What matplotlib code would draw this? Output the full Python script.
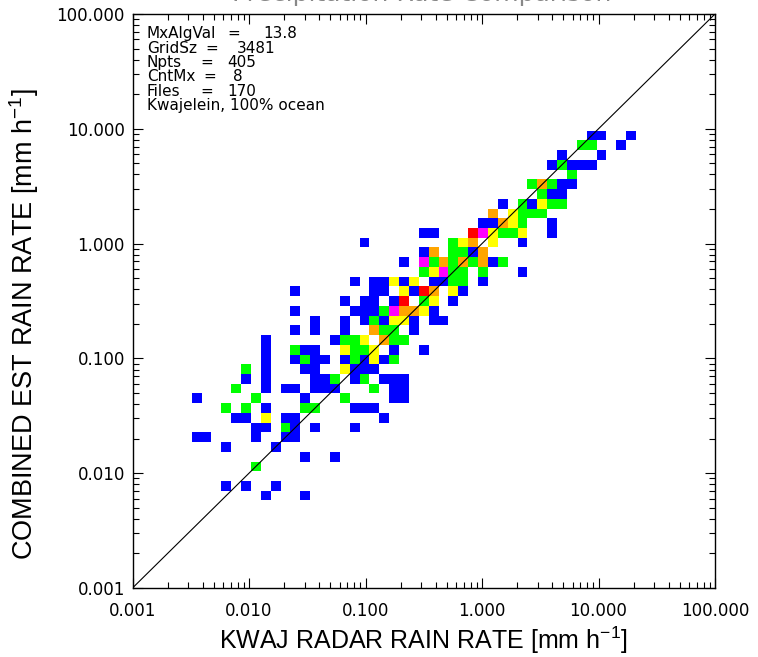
import matplotlib
matplotlib.use("Agg")
import matplotlib.pyplot as plt
from matplotlib.colors import ListedColormap, BoundaryNorm
from matplotlib.ticker import FixedLocator, NullFormatter
import numpy as np

# 59 x 59 log-spaced bins from 0.001 to 100 mm/h (GridSz = 3481)
n_bins = 59
log_lo, log_hi = -3.0, 2.0

# occupied cells, written row by row (top row first):
# cell_x = radar bin index, cell_y = combined bin index, cell_n = count
cell_x = [46, 47, 50,
          45, 46, 49,
          43, 47,
          42, 43, 44, 45, 46,
          44,
          40, 41, 42, 43, 44,
          41, 42, 43,
          37, 39, 40, 41, 42, 43,
          36, 38, 39, 40, 41,
          35, 36, 37, 38, 39, 42,
          29, 30, 34, 35, 36, 37, 38, 39, 42,
          23, 32, 33, 34, 36, 39,
          29, 30, 32, 33, 34, 35,
          27, 29, 30, 31, 32, 33, 34, 35, 36, 37,
          29, 30, 31, 32, 33, 35, 39,
          22, 24, 25, 26, 27, 28, 30, 31, 32, 33, 35,
          16, 24, 25, 27, 28, 29, 30, 32, 33,
          21, 23, 24, 26, 27, 29, 30, 32,
          16, 22, 23, 24, 25, 26, 27, 28, 29, 30,
          18, 21, 23, 24, 25, 26, 27, 28, 30, 31,
          16, 18, 21, 24, 25, 26, 28,
          13, 20, 21, 22, 23, 25, 26, 27,
          13, 16, 17, 18, 21, 22, 23, 24, 26, 29,
          13, 16, 17, 18, 19, 21, 22, 23, 24, 25, 26,
          11, 13, 17, 18, 21, 22, 23, 24,
          11, 13, 18, 19, 20, 22, 23, 25, 26, 27,
          10, 13, 15, 16, 18, 19, 20, 24, 26, 27,
          6, 12, 17, 21, 26, 27,
          9, 11, 13, 17, 18, 22, 23, 24,
          10, 11, 13, 15, 16, 25,
          12, 13, 15, 16, 18, 22,
          6, 7, 12, 15, 16,
          9, 14,
          17, 20,
          12,
          9, 11, 14,
          13, 17]
cell_y = ([46] * 3 + [45] * 3 + [44] * 2 + [43] * 5 + [42] * 1 + [41] * 5 +
          [40] * 3 + [39] * 6 + [38] * 5 + [37] * 6 + [36] * 9 + [35] * 6 +
          [34] * 6 + [33] * 10 + [32] * 7 + [31] * 11 + [30] * 9 + [29] * 8 +
          [28] * 10 + [27] * 10 + [26] * 7 + [25] * 8 + [24] * 10 + [23] * 11 +
          [22] * 8 + [21] * 10 + [20] * 10 + [19] * 6 + [18] * 8 + [17] * 6 +
          [16] * 6 + [15] * 5 + [14] * 2 + [13] * 2 + [12] * 1 + [10] * 3 +
          [9] * 2)
cell_n = [1, 1, 1,
          2, 2, 1,
          1, 1,
          1, 2, 1, 1, 1,
          2,
          2, 4, 2, 1, 1,
          2, 1, 1,
          1, 2, 1, 3, 2, 2,
          4, 3, 2, 2, 2,
          1, 1, 4, 3, 2, 1,
          1, 1, 8, 5, 3, 2, 2, 3, 1,
          1, 2, 3, 4, 3, 1,
          1, 4, 2, 2, 1, 4,
          1, 5, 2, 4, 2, 4, 2, 4, 1, 2,
          2, 3, 5, 2, 2, 2, 1,
          1, 1, 1, 3, 1, 3, 1, 1, 2, 2, 1,
          1, 1, 1, 3, 1, 6, 4, 3, 1,
          1, 1, 1, 1, 6, 2, 3, 1,
          1, 1, 1, 1, 2, 5, 4, 4, 3, 1,
          1, 1, 1, 2, 1, 3, 3, 1, 1, 1,
          1, 1, 1, 4, 2, 2, 1,
          1, 1, 2, 2, 3, 4, 2, 2,
          1, 2, 1, 1, 3, 2, 2, 3, 1, 1,
          1, 1, 2, 1, 1, 1, 2, 1, 3, 1, 2,
          2, 1, 1, 1, 3, 1, 1, 1,
          1, 1, 1, 1, 2, 1, 2, 1, 1, 1,
          2, 1, 1, 1, 1, 1, 1, 2, 1, 1,
          1, 2, 1, 2, 1, 1,
          2, 2, 1, 2, 2, 1, 1, 1,
          1, 1, 3, 1, 1, 1,
          1, 1, 2, 1, 1, 1,
          1, 1, 1, 1, 1,
          1, 1,
          1, 1,
          2,
          1, 1, 1,
          1, 1]

stat_names = ["MxAlgVal", "GridSz", "Npts", "CntMx", "Files"]
stat_values = ["13.8", "3481", "405", "8", "170"]
site_note = "Kwajelein, 100% ocean"

tick_vals = [0.001, 0.01, 0.1, 1.0, 10.0, 100.0]
tick_text = ["0.001", "0.010", "0.100", "1.000", "10.000", "100.000"]

count_colors = ["#0000ff", "#00ff00", "#ffff00", "#ffa500", "#ff00ff", "#ff0000"]
count_bounds = [0.5, 1.5, 2.5, 3.5, 4.5, 5.5, 8.5]

# ---------------------------------------------------------------------------
W, H = 758, 657
x0, x1, y0, y1 = 132.5, 715.0, 588.0, 14.0      # frame in image pixels

grid = np.zeros((n_bins, n_bins))
for ix, iy, c in zip(cell_x, cell_y, cell_n):
    grid[iy, ix] += c
grid = np.ma.masked_equal(grid, 0)

edges = 10 ** np.linspace(log_lo, log_hi, n_bins + 1)

fig = plt.figure(figsize=(W / 100, H / 100), dpi=100)
ax = fig.add_axes([x0 / W, (H - y0) / H, (x1 - x0) / W, (y0 - y1) / H])

cmap = ListedColormap(count_colors)
norm = BoundaryNorm(count_bounds, cmap.N)
ax.pcolormesh(edges, edges, grid, cmap=cmap, norm=norm, shading="flat",
              edgecolors="none", antialiased=False, zorder=1)

ax.plot([tick_vals[0], tick_vals[-1]], [tick_vals[0], tick_vals[-1]],
        color="black", lw=0.8, zorder=3)

ax.set_xscale("log")
ax.set_yscale("log")
ax.set_xlim(tick_vals[0], tick_vals[-1])
ax.set_ylim(tick_vals[0], tick_vals[-1])

for axis in (ax.xaxis, ax.yaxis):
    axis.set_major_locator(FixedLocator(tick_vals))
    minors = [m * 10.0 ** e for e in range(-3, 2) for m in range(2, 10)]
    axis.set_minor_locator(FixedLocator(minors))
    axis.set_minor_formatter(NullFormatter())
ax.set_xticklabels(tick_text)
ax.set_yticklabels(tick_text)

ax.tick_params(which="both", direction="in", top=True, right=True,
               labelsize=12, labelcolor="black", width=0.8)
ax.tick_params(which="major", length=7)
ax.tick_params(which="minor", length=4)
ax.tick_params(axis="y", which="major", pad=5.5)
ax.tick_params(axis="x", which="major", pad=10)
for sp in ax.spines.values():
    sp.set_linewidth(1.0)


def px_to_ax(px, py):
    return (px - x0) / (x1 - x0), (y0 - py) / (y0 - y1)


# statistics block: name, "=" and value sit at their own columns
line_y = [33, 48, 62, 76, 91]
eq_x = [227, 205, 200, 203, 200]
val_x = [263, 237, 227, 233, 227]
for k, (name, val) in enumerate(zip(stat_names, stat_values)):
    for px, s in ((147, name), (eq_x[k], "="), (val_x[k], val)):
        ax.text(*px_to_ax(px, line_y[k]), s, transform=ax.transAxes,
                fontsize=11, va="center", ha="left", zorder=4)
ax.text(*px_to_ax(147, 105), site_note, transform=ax.transAxes,
        fontsize=11, va="center", ha="left", zorder=4)

ax.set_xlabel("KWAJ RADAR RAIN RATE [mm h$^{\\mathregular{-1}}$]",
              family="Liberation Sans", size=18, va="center")
ax.xaxis.set_label_coords(0.5, -0.091)
ax.set_ylabel("COMBINED EST RAIN RATE [mm h$^{\\mathregular{-1}}$]",
              family="Liberation Sans", size=19.5, va="center")
ax.yaxis.set_label_coords(-0.186, 0.46)

# title is clipped at the top edge of the image in the original
fig.text(0.556, 1 - 1.0 / H, "Precipitation Rate Comparison", ha="center",
         va="baseline", color="#888888", fontsize=18)

fig.savefig("out.png", dpi=100)
